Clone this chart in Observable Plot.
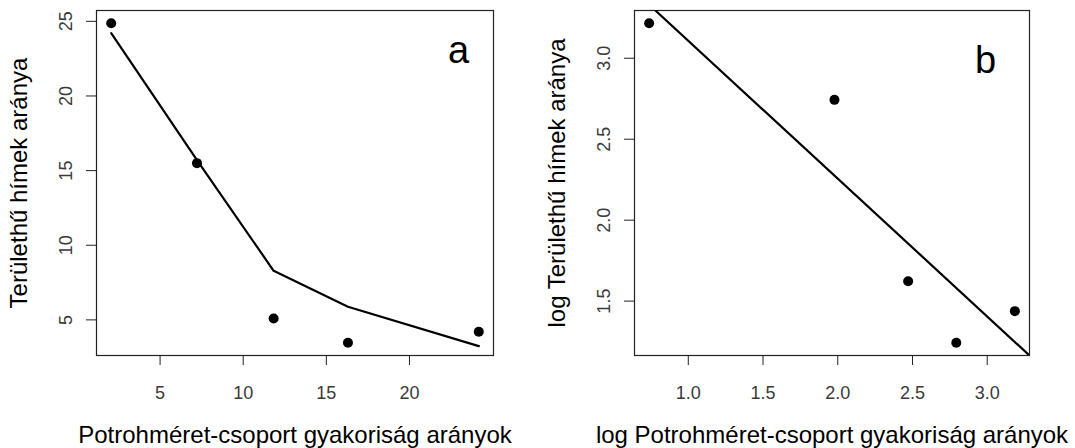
<!DOCTYPE html>
<html><head><meta charset="utf-8">
<script src="https://cdn.jsdelivr.net/npm/d3@7"></script>
<script src="https://cdn.jsdelivr.net/npm/@observablehq/plot@0.6"></script>
<style>
body{margin:0;background:#fff;}
#wrap{position:relative;width:1075px;height:448px;overflow:hidden;}
.pan{position:absolute;top:0;}
</style></head><body><div id="wrap"></div>
<script>
// Panel a: raw ratios
const xA = [2.06, 7.22, 11.83, 16.3, 24.17];
const yA = [24.87, 15.5, 5.09, 3.47, 4.21];
const fitA = [24.21, 15.7, 8.29, 5.88, 3.24];
const xTicksA = [5, 10, 15, 20];
const yTicksA = [5, 10, 15, 20, 25];
// Panel b: log ratios
const xB = [0.738, 1.978, 2.471, 2.793, 3.185];
const yB = [3.216, 2.743, 1.623, 1.243, 1.438];
const fitBx = [0.780, 3.283];
const fitBy = [3.295, 1.164];
const xTicksB = [1.0, 1.5, 2.0, 2.5, 3.0];
const yTicksB = [1.5, 2.0, 2.5, 3.0];
const titlesA = {x: "Potrohméret-csoport gyakoriság arányok", y: "Területhű hímek aránya", tag: "a"};
const titlesB = {x: "log Potrohméret-csoport gyakoriság arányok", y: "log Területhű hímek aránya", tag: "b"};

const FONT = "'Liberation Sans', Arial, sans-serif";

function pad(vals) {
  const [a, b] = d3.extent(vals);
  const w = (b - a) * 0.04;
  return [a - w, b + w];
}

function panel(o) {
  const pts = o.x.map((v, i) => ({x: v, y: o.y[i]}));
  const fit = o.fx.map((v, i) => ({x: v, y: o.fy[i]}));
  return Plot.plot({
    width: o.width, height: 448,
    marginLeft: o.mL, marginRight: o.mR, marginTop: 10, marginBottom: 93,
    style: {fontFamily: FONT, fontSize: "18px", background: "white", color: "#333"},
    x: {domain: pad(o.x)},
    y: {domain: pad(o.y)},
    marks: [
      Plot.frame({stroke: "#222", strokeWidth: 1.2}),
      Plot.axisX({ticks: o.xTicks, tickSize: 10, tickPadding: 21, tickFormat: o.fmt, fontSize: 18, label: null, fill: "#3a3a3a", stroke: "#222"}),
      Plot.axisY({ticks: o.yTicks, tickSize: 10, tickFormat: () => "", label: null, stroke: "#222"}),
      Plot.text(o.yTicks, {y: d => d, text: o.fmt, frameAnchor: "left", dx: -30, rotate: -90, textAnchor: "middle", lineAnchor: "middle", fontSize: 18, fill: "#3a3a3a"}),
      Plot.line(fit, {x: "x", y: "y", stroke: "black", strokeWidth: 2.2, clip: true}),
      Plot.dot(pts, {x: "x", y: "y", r: 5, fill: "black", stroke: "none"}),
      Plot.text([o.t.x], {frameAnchor: "bottom", dy: 87, lineAnchor: "bottom", fontSize: 24, fill: "black"}),
      Plot.text([o.t.y], {frameAnchor: "left", dx: -70, rotate: -90, lineAnchor: "bottom", textAnchor: "middle", fontSize: 24, fill: "black"}),
      Plot.text([o.t.tag], {frameAnchor: "top-right", dx: o.tagDx, dy: o.tagDy, lineAnchor: "bottom", textAnchor: "middle", fontSize: 38, fill: "black"})
    ]
  });
}

const wrap = document.getElementById("wrap");
const a = panel({x: xA, y: yA, fx: xA, fy: fitA, xTicks: xTicksA, yTicks: yTicksA, fmt: d3.format("d"),
  t: titlesA, width: 537, mL: 96, mR: 44, tagDx: -35, tagDy: 52.7});
const b = panel({x: xB, y: yB, fx: fitBx, fy: fitBy, xTicks: xTicksB, yTicks: yTicksB, fmt: d3.format(".1f"),
  t: titlesB, width: 538, mL: 97, mR: 46, tagDx: -44, tagDy: 62.7});
a.classList.add("pan"); a.style.left = "0px";
b.classList.add("pan"); b.style.left = "537px";
wrap.appendChild(a); wrap.appendChild(b);
</script>
</body></html>
